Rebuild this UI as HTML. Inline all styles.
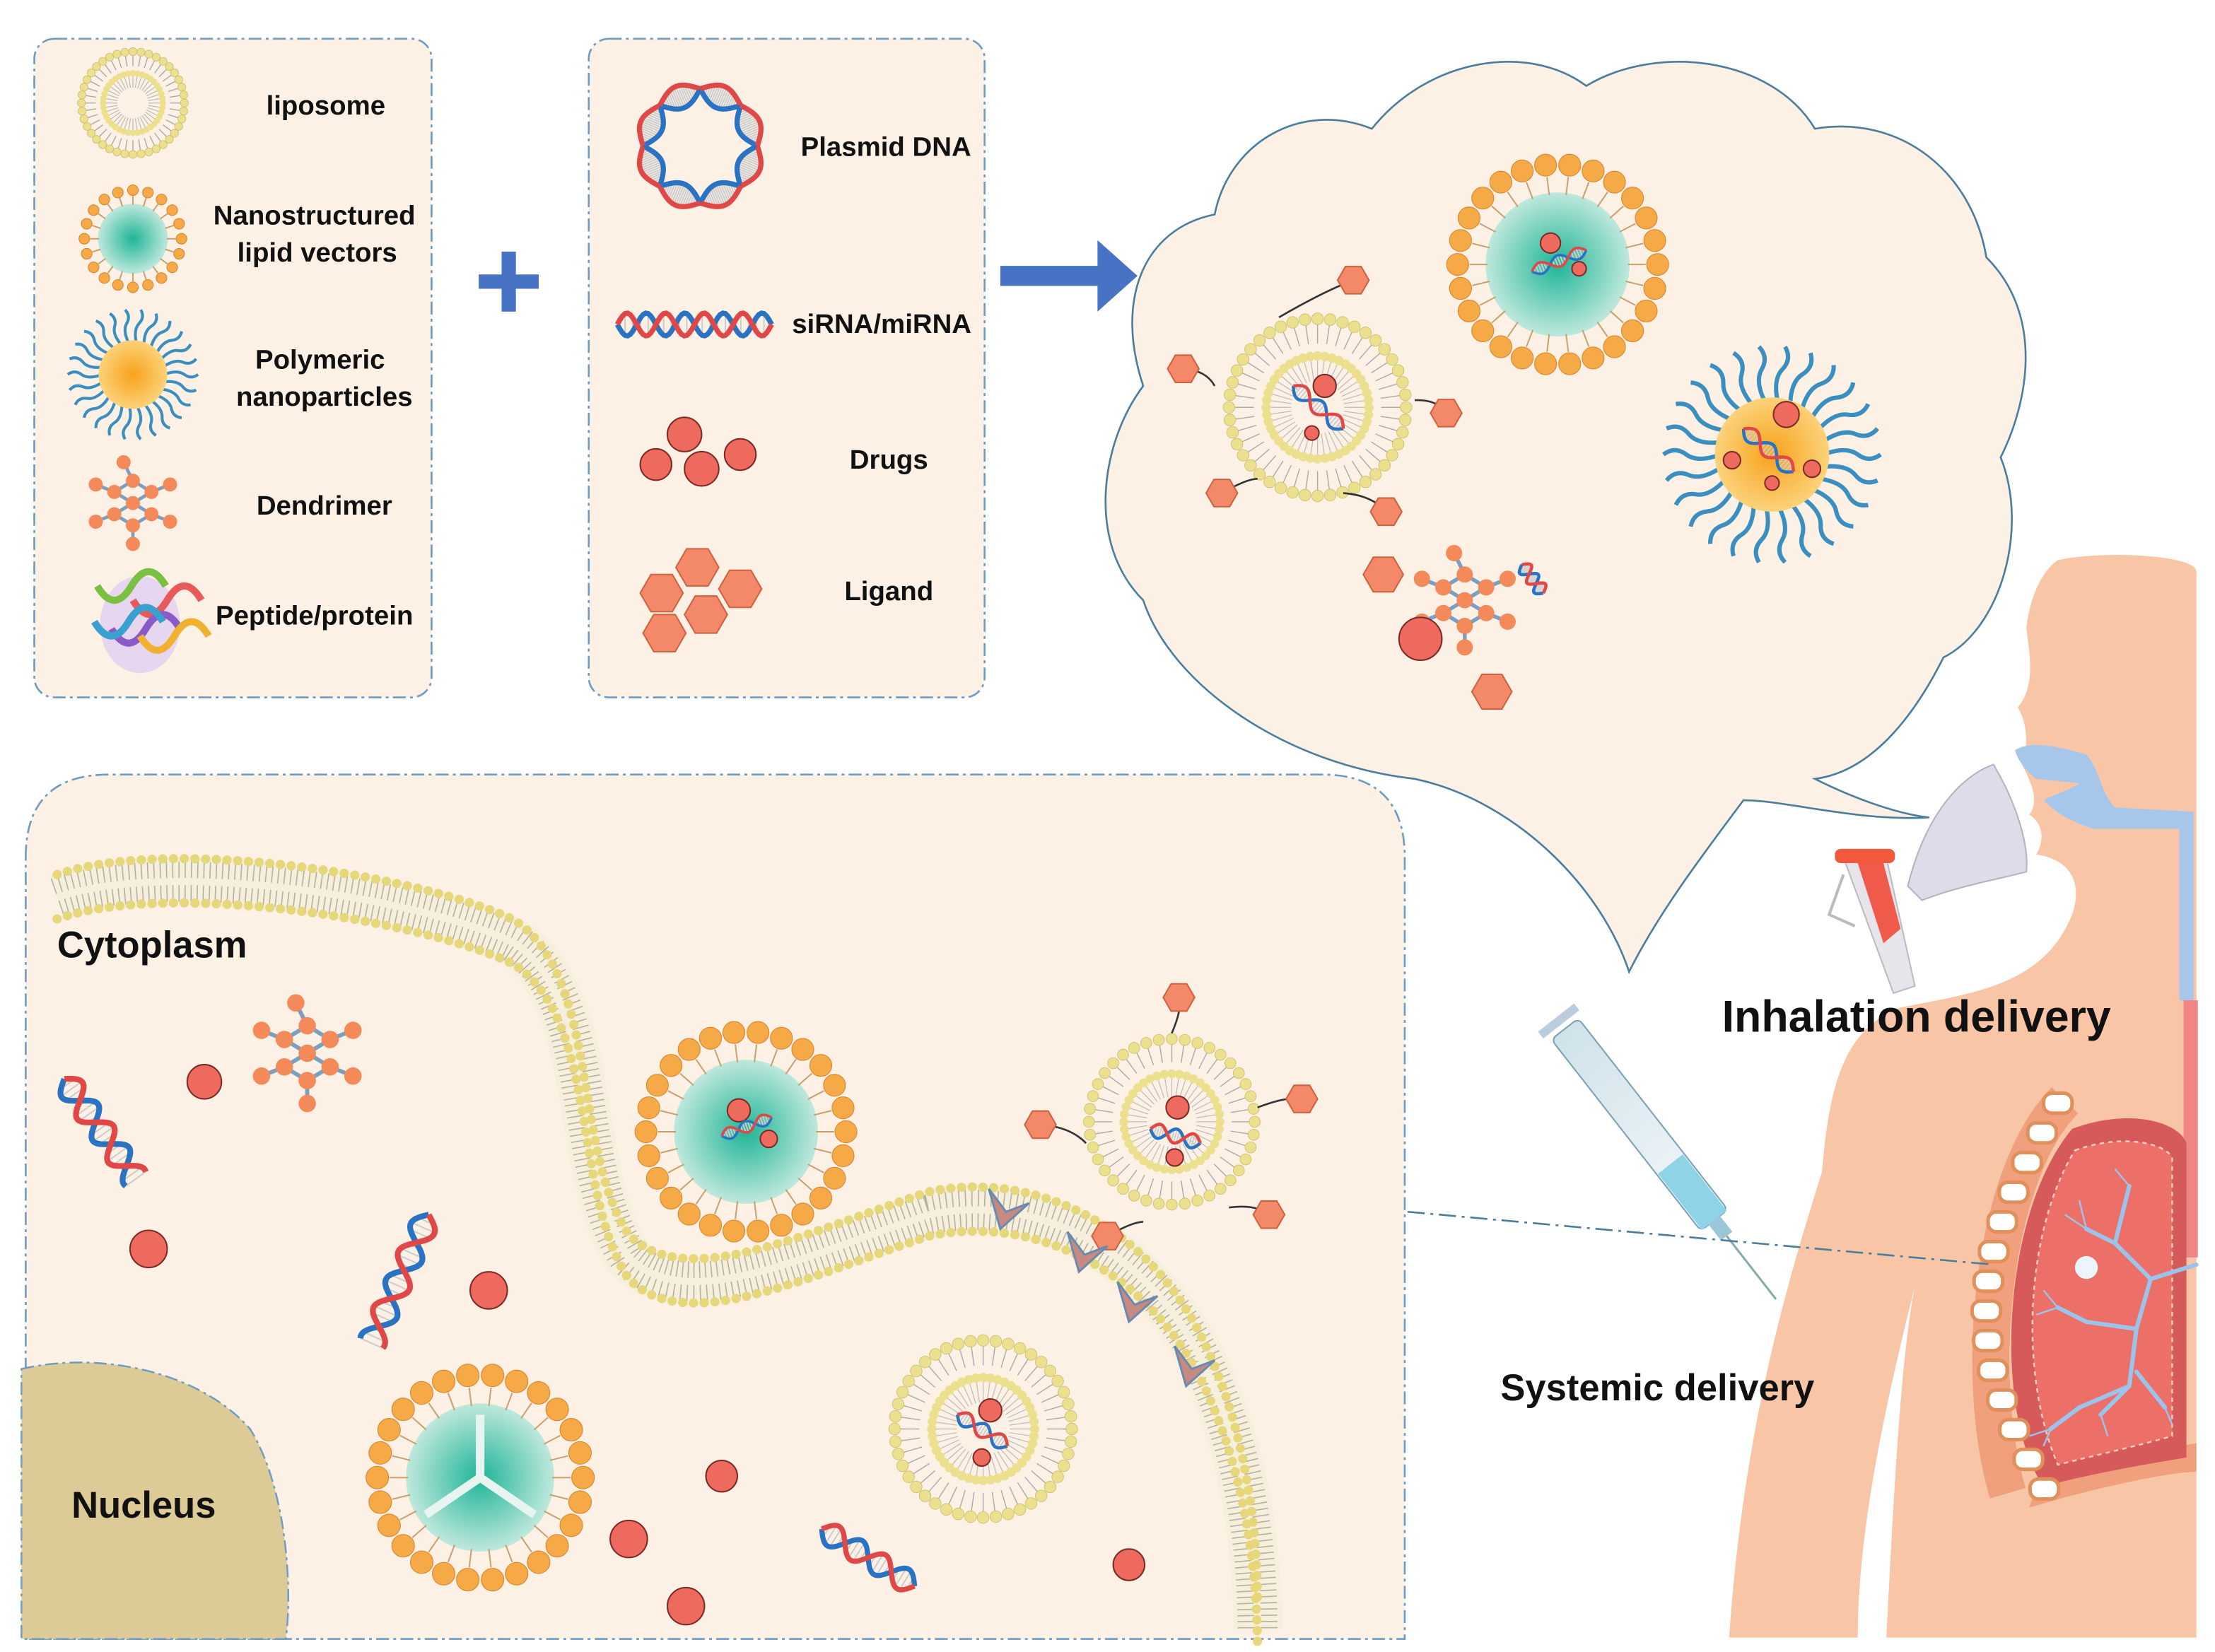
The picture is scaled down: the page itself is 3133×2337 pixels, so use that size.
<!DOCTYPE html>
<html><head><meta charset="utf-8"><style>
html,body{margin:0;padding:0;background:#fff}
svg{display:block}
text{font-family:"Liberation Sans",Arial,sans-serif;font-weight:bold;fill:#111}
</style></head><body>
<svg id="s" width="3133" height="2337" viewBox="0 0 1550 1156" xmlns="http://www.w3.org/2000/svg">
<defs>
<radialGradient id="teal"><stop offset="0" stop-color="#1fb597"/><stop offset="1" stop-color="#bfe8dc"/></radialGradient>
<radialGradient id="orng"><stop offset="0" stop-color="#f7a21b"/><stop offset="1" stop-color="#fcd27a"/></radialGradient>
<linearGradient id="syr" x1="0" y1="0" x2="1" y2="0"><stop offset="0" stop-color="#cfe2ea"/><stop offset="1" stop-color="#f4f8fa"/></linearGradient>
</defs>
<rect width="1550" height="1156" fill="#fff"/>
<!-- cloud -->
<path d="M1140,680 C1120,620 1060,560 990,545 C900,535 820,480 800,420 C760,380 770,310 800,270 C780,210 800,160 850,150 C860,100 910,70 960,90 C1000,40 1070,30 1110,60 C1160,30 1240,40 1270,90 C1330,80 1380,120 1390,180 C1430,220 1420,280 1400,320 C1420,370 1400,440 1360,460 C1340,500 1310,540 1270,545 C1300,560 1330,570 1350,572 C1300,575 1250,560 1220,560 C1190,600 1160,640 1140,680 Z" fill="#fdf1e6" stroke="#4a7d9e" stroke-width="1.3"/>
<!-- body -->
<path d="M1440,392 C1470,385 1537,388 1537,400 L1537,1146 L1320,1146 C1325,1050 1330,950 1340,900 C1320,980 1300,1070 1300,1146 L1210,1146 C1220,1000 1250,900 1275,820 C1280,760 1290,720 1330,705 C1380,695 1430,690 1450,640 C1460,610 1440,600 1425,598 C1432,585 1428,575 1420,570 C1428,560 1420,545 1415,535 C1420,520 1418,505 1412,495 C1425,480 1420,455 1418,440 C1420,420 1428,400 1440,392 Z" fill="#f8c6a6"/>
<path d="M1410,525 C1420,518 1440,522 1460,528 C1470,540 1470,555 1480,565 L1535,568 L1535,700 L1525,700 L1525,580 L1465,580 C1450,575 1440,570 1430,560 C1440,555 1450,552 1455,548 L1425,545 C1418,540 1412,532 1410,525 Z" fill="#a7c7ea"/>
<rect x="1528" y="700" width="10" height="180" fill="#f08585"/>
<!-- lungs -->
<path d="M1537,1010 C1500,1015 1460,1025 1425,1040 L1420,1055 C1470,1040 1520,1030 1537,1030 Z" fill="#f0a07d"/>
<path d="M1450,790 C1490,775 1525,785 1530,800 L1530,1020 C1500,1025 1470,1030 1430,1040 C1395,990 1400,850 1450,790 Z" fill="#d65a5a"/>
<path d="M1452,805 C1485,793 1515,800 1520,810 L1520,1005 C1495,1012 1468,1018 1440,1025 C1412,960 1418,860 1452,805 Z" fill="#ec6f68" stroke="#f8d0c6" stroke-width="1.2" stroke-dasharray="3 3"/>
<g stroke="#9cc3ea" stroke-width="3" fill="none" stroke-linecap="round">
<path d="M1537,885 L1505,895 L1495,930 L1490,970 L1470,990"/><path d="M1505,895 L1480,870 L1460,860"/><path d="M1495,930 L1460,925 L1440,915"/><path d="M1490,970 L1455,985 L1435,1000"/><path d="M1480,870 L1490,830"/><path d="M1495,960 L1515,985"/>
</g>
<g stroke="#9cc3ea" stroke-width="1.2" fill="none">
<path d="M1460,860 l-15,-10 M1460,860 l-5,-20 M1440,915 l-15,5 M1440,915 l-10,-12 M1435,1000 l-15,5 M1435,1000 l-5,12 M1470,990 l5,15 M1490,830 l-10,-12 M1515,985 l5,12"/>
</g>
<circle cx="1460" cy="887" r="8" fill="#eef4fb"/>
<g id="ribs"></g>
<!-- syringe -->
<g transform="translate(1095,720) rotate(52)">
<rect x="0" y="-12" width="170" height="24" rx="4" fill="url(#syr)" stroke="#7aa0b4"/>
<rect x="120" y="-11" width="50" height="22" fill="#8fd3e6"/>
<rect x="170" y="-5" width="14" height="10" fill="#9bc6d6"/>
<line x1="184" y1="0" x2="240" y2="0" stroke="#8aa" stroke-width="1.5"/>
<rect x="-10" y="-16" width="6" height="32" fill="#bcd"/>
</g>
<!-- nebulizer -->
<path d="M1290,600 L1320,600 L1340,690 L1325,695 Z" fill="#e8e4ec" stroke="#bbb"/>
<rect x="1284" y="594" width="42" height="10" rx="4" fill="#f05a3a"/>
<path d="M1300,604 L1318,604 L1330,650 L1318,660 Z" fill="#f05a4a"/>
<path d="M1335,620 C1350,560 1380,540 1395,535 C1410,560 1420,590 1418,610 C1400,615 1370,620 1345,630 Z" fill="#dcd8e6" stroke="#aab" opacity=".9"/>
<path d="M1290,612 L1280,640 L1298,648" fill="none" stroke="#bbb" stroke-width="2"/>
<!-- dash-dot line -->
<line x1="985" y1="848" x2="1395" y2="885" stroke="#4a7d9e" stroke-width="1.3" stroke-dasharray="12 4 2 4"/>
<text x="1205" y="722" font-size="31">Inhalation delivery</text>
<text x="1050" y="980" font-size="26">Systemic delivery</text>
<!-- panels -->
<rect x="24" y="27" width="278" height="461" rx="14" fill="#fdf1e6" stroke="#6d9cc0" stroke-width="1.3" stroke-dasharray="9 3 2 3"/>
<rect x="412" y="27" width="277" height="461" rx="14" fill="#fdf1e6" stroke="#6d9cc0" stroke-width="1.3" stroke-dasharray="9 3 2 3"/>
<path d="M18,600 Q18,542 76,542 L925,542 Q983,542 983,600 L983,1147 L18,1147 Z" fill="#fdf1e6" stroke="#6d9cc0" stroke-width="1.3" stroke-dasharray="9 3 2 3"/>
<path d="M15,958 C70,945 140,960 175,1000 C200,1040 205,1110 200,1147 L15,1147 Z" fill="#dccb97" stroke="#6d9cc0" stroke-width="1.2" stroke-dasharray="9 3 2 3"/>
<!-- plus & arrow -->
<rect x="335" y="192" width="42" height="10" fill="#4873c4"/><rect x="351" y="176" width="10" height="42" fill="#4873c4"/>
<path d="M700,186 L768,186 L768,168 L796,193 L768,218 L768,200 L700,200 Z" fill="#4873c4"/>
<!-- membrane -->
<g fill="none">
<path d="M40,628 C120,600 300,630 360,660 C420,700 400,820 440,880 C480,920 560,880 650,850 C720,835 800,870 840,950 C870,1010 880,1080 880,1140" stroke="#f6efdc" stroke-width="34"/>
<path d="M40,628 C120,600 300,630 360,660 C420,700 400,820 440,880 C480,920 560,880 650,850 C720,835 800,870 840,950 C870,1010 880,1080 880,1140" stroke="#b5b0a4" stroke-width="28" stroke-dasharray="0.8 3.5"/>
<path d="M40,628 C120,600 300,630 360,660 C420,700 400,820 440,880 C480,920 560,880 650,850 C720,835 800,870 840,950 C870,1010 880,1080 880,1140" stroke="#f6efdc" stroke-width="5"/>
<path transform="translate(0,-16)" d="M40,628 C120,600 300,630 360,660 C420,700 400,820 440,880 C480,920 560,880 650,850 C720,835 800,870 840,950 C870,1010 880,1080 880,1140" stroke="#e6d77a" stroke-width="6.5" stroke-linecap="round" stroke-dasharray="0 7.5"/>
<path transform="translate(0,15)" d="M40,628 C120,600 300,630 360,660 C420,700 400,820 440,880 C480,920 560,880 650,850 C720,835 800,870 840,950 C870,1010 880,1080 880,1140" stroke="#e6d77a" stroke-width="6.5" stroke-linecap="round" stroke-dasharray="0 7.5"/>
</g>
<g id="dyn"></g>
<!-- labels -->
<g font-size="19" text-anchor="middle">
<text x="228" y="80">liposome</text>
<text x="220" y="157">Nanostructured</text><text x="222" y="183">lipid vectors</text>
<text x="224" y="258">Polymeric</text><text x="227" y="284">nanoparticles</text>
<text x="227" y="360">Dendrimer</text>
<text x="220" y="437">Peptide/protein</text>
<text x="620" y="109">Plasmid DNA</text>
<text x="617" y="233">siRNA/miRNA</text>
<text x="622" y="328">Drugs</text>
<text x="622" y="420">Ligand</text>
</g>
<text x="40" y="670" font-size="26">Cytoplasm</text>
<text x="50" y="1062" font-size="26">Nucleus</text>
</svg>
<script>
const NS="http://www.w3.org/2000/svg",G=document.getElementById('dyn');
function el(t,a,p){const e=document.createElementNS(NS,t);for(const k in a)e.setAttribute(k,a[k]);(p||G).appendChild(e);return e}
function lipo(cx,cy,R,n){n=n||Math.round(R*1.1);for(let i=0;i<n;i++){const a=i/n*2*Math.PI,c=Math.cos(a),s=Math.sin(a);
el('line',{x1:cx+c*R,y1:cy+s*R,x2:cx+c*R*.72,y2:cy+s*R*.72,stroke:'#aaa','stroke-width':.7});
el('circle',{cx:cx+c*R,cy:cy+s*R,r:R*.05+1,fill:'#ecdf8e',stroke:'#c9bd6a','stroke-width':.4});
el('line',{x1:cx+c*R*.55,y1:cy+s*R*.55,x2:cx+c*R*.3,y2:cy+s*R*.3,stroke:'#bbb','stroke-width':.6});
el('circle',{cx:cx+c*R*.58,cy:cy+s*R*.58,r:R*.04+.8,fill:'#ecdf8e'});}}
function nlc(cx,cy,R,n){el('circle',{cx,cy,r:R*.72,fill:'url(#teal)'});for(let i=0;i<n;i++){const a=i/n*2*Math.PI,c=Math.cos(a),s=Math.sin(a);
el('line',{x1:cx+c*R*.7,y1:cy+s*R*.7,x2:cx+c*R*.88,y2:cy+s*R*.88,stroke:'#c9a070','stroke-width':1});
el('circle',{cx:cx+c*R,cy:cy+s*R,r:R*.11,fill:'#f5a947',stroke:'#d9822a','stroke-width':.5});}}
function poly(cx,cy,R){for(let i=0;i<26;i++){const a=i/26*2*Math.PI,c=Math.cos(a),s=Math.sin(a);
el('path',{d:`M${cx+c*R*.9},${cy+s*R*.9} Q${cx+c*R*1.3+s*R*.15},${cy+s*R*1.3-c*R*.15} ${cx+c*R*1.5},${cy+s*R*1.5} T${cx+c*R*1.9},${cy+s*R*1.9}`,fill:'none',stroke:'#3a8fc0','stroke-width':R*.06+.6})}
el('circle',{cx,cy,r:R,fill:'url(#orng)'});}
function drug(cx,cy,r){el('circle',{cx,cy,r,fill:'#ee6a5f',stroke:'#7a2a25','stroke-width':1})}
function dend(cx,cy,s){const P=[[0,0],[-1,-.6],[1,-.6],[-1,.6],[1,.6],[0,1.2],[0,-1.2],[-2,-1],[2,-1],[-2,1],[2,1],[0,2.2],[-.5,-2.2]];
const E=[[0,1],[0,2],[0,3],[0,4],[3,5],[4,5],[1,6],[2,6],[1,7],[2,8],[3,9],[4,10],[5,11],[6,12]];
E.forEach(([a,b])=>el('line',{x1:cx+P[a][0]*s,y1:cy+P[a][1]*s,x2:cx+P[b][0]*s,y2:cy+P[b][1]*s,stroke:'#7c9fc0','stroke-width':s*.18}));
P.forEach(p=>el('circle',{cx:cx+p[0]*s,cy:cy+p[1]*s,r:s*.38,fill:'#f48a5a'}));}
function hex(cx,cy,r,f){let d='';for(let i=0;i<6;i++){const a=i*Math.PI/3;d+=(i?'L':'M')+(cx+r*Math.cos(a))+','+(cy+r*Math.sin(a))}el('path',{d:d+'Z',fill:f||'#f4896a',stroke:'#d0603f','stroke-width':1})}
function dna(x1,y1,x2,y2,w,turns){let d1='',d2='';const n=60;for(let i=0;i<=n;i++){const t=i/n,x=x1+(x2-x1)*t,y=y1+(y2-y1)*t,L=Math.hypot(x2-x1,y2-y1),nx=-(y2-y1)/L,ny=(x2-x1)/L,o=Math.sin(t*turns*2*Math.PI)*w;
d1+=(i?'L':'M')+(x+nx*o)+','+(y+ny*o);d2+=(i?'L':'M')+(x-nx*o)+','+(y-ny*o);
if(i%3==0)el('line',{x1:x+nx*o,y1:y+ny*o,x2:x-nx*o,y2:y-ny*o,stroke:'#ccc','stroke-width':1})}
el('path',{d:d1,fill:'none',stroke:'#2a72c2','stroke-width':w*.45});el('path',{d:d2,fill:'none',stroke:'#e04848','stroke-width':w*.45});}
function lig(x,y,hx,hy){el('path',{d:`M${x},${y} Q${(x+hx)/2+5},${(y+hy)/2-5} ${hx},${hy}`,fill:'none',stroke:'#333','stroke-width':1.3});hex(hx,hy,11)}
// legend
lipo(93,72,36,40);nlc(93,167,34,20);poly(93,262,24);dend(93,352,13);
el('ellipse',{cx:98,cy:437,rx:28,ry:34,fill:'#e6d6f0'});
[['#7ac043',80,420],['#e85a5a',105,430],['#8a5ac8',90,450],['#f0b030',110,455],['#3aa0d0',78,445]].forEach(c=>el('path',{d:`M${c[1]-12},${c[2]-10} q12,20 24,0 t24,0`,fill:'none',stroke:c[0],'stroke-width':5}));
// plasmid
for(let i=0;i<8;i++){const a=i/8*2*Math.PI,b=(i+1)/8*2*Math.PI;dna(490+Math.cos(a)*40,102+Math.sin(a)*40,490+Math.cos(b)*40,102+Math.sin(b)*40,8,.5)}
dna(432,227,540,227,8,4);
drug(479,304,12);drug(459,325,11);drug(491,328,12);drug(518,318,11);
hex(488,397,15);hex(463,415,15);hex(518,412,15);hex(494,430,15);hex(465,443,15);
// cloud content
lipo(922,285,62,44);drug(927,270,8);drug(918,303,5);dna(905,270,940,300,5,1.5);
lig(895,222,947,196);lig(850,270,828,258);lig(990,280,1012,289);lig(880,335,855,345);lig(940,345,970,358);
nlc(1090,185,70,26);drug(1085,170,7);drug(1105,188,5);dna(1072,190,1110,175,4,1.5);
poly(1240,318,40);drug(1250,290,9);drug(1212,322,6);drug(1268,328,6);drug(1240,338,5);dna(1220,300,1255,330,5,1.5);
dend(1025,420,15);drug(994,447,15);hex(968,402,14);hex(1044,484,14);dna(1065,395,1080,415,5,1.5);
// cell content
dend(215,737,16);drug(143,757,12);drug(104,874,13);drug(342,903,13);drug(505,1033,11);drug(440,1077,13);drug(480,1124,13);drug(790,1095,11);
dna(45,755,95,825,9,2.3);dna(300,850,260,940,9,2.3);dna(575,1070,640,1110,8,2);
nlc(522,792,70,26);drug(517,777,8);drug(538,797,6);dna(505,795,540,782,4,1.5);
lipo(820,785,58,40);drug(824,775,8);drug(822,810,6);dna(805,790,840,800,5,1.5);
lig(820,723,825,698);lig(760,800,728,787);lig(880,775,911,769);lig(800,855,775,865);lig(860,845,888,850);
nlc(336,1034,72,26);el('path',{d:'M336,1034 L336,990 M336,1034 L298,1060 M336,1034 L374,1060',stroke:'#e8f4f0','stroke-width':6,fill:'none'});
lipo(688,1000,62,44);drug(693,987,8);drug(687,1020,6);dna(670,990,705,1012,5,1.5);
[[700,850],[755,880],[790,915],[830,960]].forEach(([x,y])=>el('path',{d:`M${x-8},${y-18} L${x},${y+10} L${x+20},${y-8} L${x+4},${y-2} Z`,fill:'#c88a80',stroke:'#6a8ab0','stroke-width':1.5}));
// ribs
const R=document.getElementById('ribs');
el('path',{d:'M1445,770 C1395,820 1380,960 1405,1045',fill:'none',stroke:'#f0a07d','stroke-width':26},R);
for(let i=0;i<14;i++){const t=i/13,y=772+t*270,x=1440-50*Math.sin(Math.PI*t*0.92)+(t>0.7?(t-0.7)*10:0);
el('rect',{x:x-10,y:y-7,width:20,height:14,rx:6,fill:'#fff',stroke:'#e0905a','stroke-width':2.5},R)}
</script>
</body></html>
